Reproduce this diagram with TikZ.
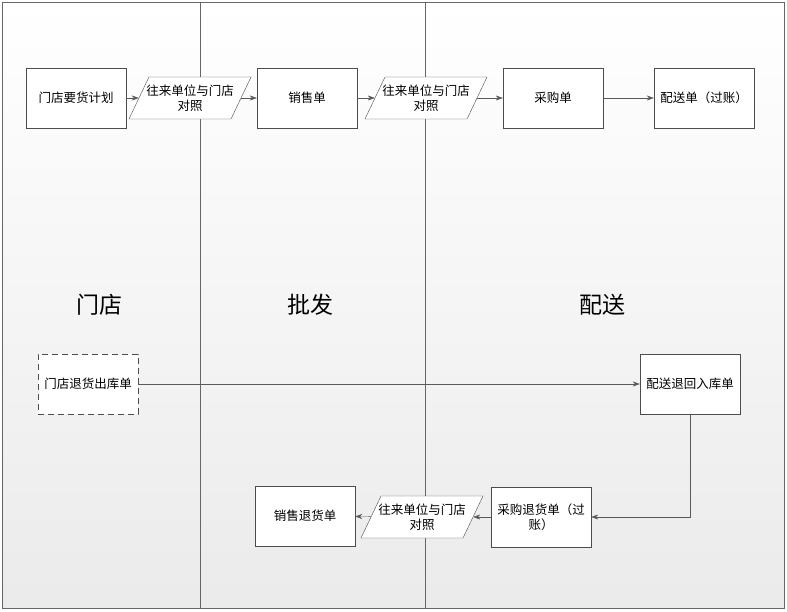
\documentclass[tikz,border=0pt]{standalone}
\usepackage{fontspec}
\setmainfont{Noto Sans CJK SC}
\usetikzlibrary{arrows.meta}
\begin{document}
\begin{tikzpicture}[x=1pt,y=1pt,
  box/.style={draw=black!70,fill=white,minimum width=100pt,minimum height=60pt,inner sep=1pt,font=\fontsize{12.5}{15}\selectfont,align=center},
  para/.style={minimum width=102pt,minimum height=42pt,inner sep=0pt,font=\fontsize{12.5}{15}\selectfont,align=center},
  parafill/.style={draw=black!70,fill=white},
  lane/.style={font=\fontsize{23}{26}\selectfont},
  arr/.style={draw=black!65,-{Stealth[length=7pt,width=5pt]}}]
\useasboundingbox (0,0) rectangle (787,-611);
\shade[top color=white,bottom color=black!8] (2,-2) rectangle (784,-608);
\draw[black!60] (2,-2) rectangle (784,-608);
\draw[black!60] (200,-2) -- (200,-608);
\draw[black!60] (425,-2) -- (425,-608);
\node[lane] (l1) at (99,-305) {门店};
\node[lane] (l2) at (310,-305) {批发};
\node[lane] (l3) at (602,-305) {配送};
\foreach \cx/\cy in {190/-98,426/-98,422/-517}
  \filldraw[parafill,shift={(\cx,\cy)}] (-61,-21) -- (41,-21) -- (61,21) -- (-41,21) -- cycle;
\node[para] (p1) at (190,-98) {往来单位与门店\\对照};
\node[para] (p2) at (426,-98) {往来单位与门店\\对照};
\node[para] (p3) at (422,-517) {往来单位与门店\\对照};
\node[box] (a) at (76,-98) {门店要货计划};
\node[box] (b) at (307,-98) {销售单};
\node[box] (c) at (553,-98) {采购单};
\node[box] (d) at (704,-98) {配送单（过账）};
\node[box,dash pattern=on 6pt off 4pt] (e) at (88,-384) {门店退货出库单};
\node[box] (f) at (690,-384) {配送退回入库单};
\node[box] (g) at (541,-517) {采购退货单（过\\账）};
\node[box] (h) at (305,-516) {销售退货单};
\draw[arr] (a) -- (p1);
\draw[arr] (p1) -- (b);
\draw[arr] (b) -- (p2);
\draw[arr] (p2) -- (c);
\draw[arr] (c) -- (d);
\draw[arr] (e) -- (f);
\draw[arr] (f.south) |- (g.east);
\draw[arr] (g) -- (p3);
\draw[arr] (p3) -- (h);
\end{tikzpicture}
\end{document}
